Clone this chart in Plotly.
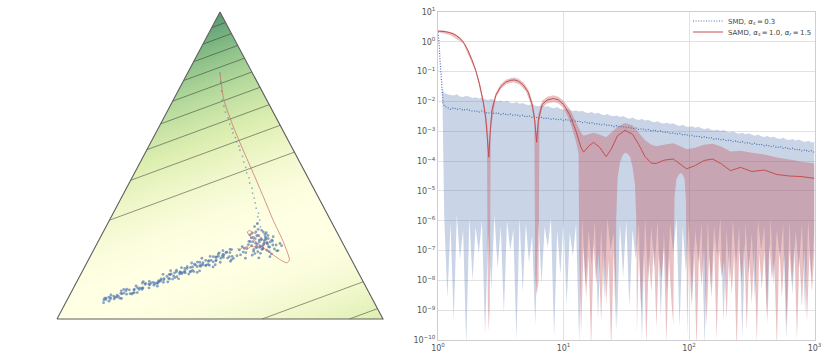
import numpy as np
import plotly.graph_objects as go

# ================= RIGHT PANEL DATA (log10 values) =================
# SMD: head of the mean curve (log10 x, log10 y)
smd_head_logx = [0.0, 0.008, 0.016, 0.024, 0.032, 0.04]
smd_head_logy = [0.32, 0.0, -0.6, -1.2, -1.7, -2.05]
# SMD on a regular log-x grid: 0.05 .. 3.0, step 0.025 (119 points)
smd_grid_start, smd_grid_step, smd_grid_n = 0.05, 0.025, 119
smd_mean_log = [
    -2.15, -2.22,
    -2.26, -2.21, -2.27, -2.24, -2.30, -2.26, -2.29, -2.33, -2.31, -2.36, -2.32, -2.35,
    -2.40, -2.36, -2.41, -2.38, -2.44, -2.40, -2.46, -2.42, -2.47, -2.44, -2.49, -2.46,
    -2.52, -2.48, -2.53, -2.51, -2.57, -2.53, -2.58, -2.55, -2.60, -2.57, -2.62, -2.59,
    -2.64, -2.60, -2.66, -2.63, -2.68, -2.66, -2.71, -2.68, -2.74, -2.71, -2.76, -2.74,
    -2.79, -2.76, -2.81, -2.79, -2.84, -2.81, -2.86, -2.84, -2.88, -2.86, -2.91, -2.89,
    -2.94, -2.91, -2.96, -2.94, -2.99, -2.96, -3.01, -2.99, -3.04, -3.02, -3.07, -3.05,
    -3.10, -3.07, -3.12, -3.10, -3.16, -3.13, -3.18, -3.16, -3.21, -3.18, -3.23, -3.21,
    -3.27, -3.24, -3.29, -3.27, -3.32, -3.29, -3.35, -3.32, -3.38, -3.35, -3.40, -3.38,
    -3.44, -3.40, -3.46, -3.43, -3.49, -3.46, -3.52, -3.49, -3.55, -3.51, -3.57, -3.54,
    -3.60, -3.57, -3.63, -3.60, -3.66, -3.62, -3.68, -3.65, -3.71]
smd_upper_log = [
    -1.72, -1.76,
    -1.78, -1.80, -1.76, -1.83, -1.85, -1.81, -1.84, -1.88, -1.86, -1.90, -1.87, -1.93,
    -1.95, -1.91, -1.96, -1.99, -1.97, -2.02, -1.98, -2.04, -2.06, -2.02, -2.08, -2.05,
    -2.10, -2.13, -2.08, -2.14, -2.16, -2.12, -2.18, -2.15, -2.20, -2.23, -2.19, -2.25,
    -2.27, -2.24, -2.29, -2.32, -2.30, -2.34, -2.31, -2.37, -2.39, -2.35, -2.41, -2.38,
    -2.43, -2.46, -2.42, -2.48, -2.50, -2.47, -2.52, -2.49, -2.55, -2.58, -2.54, -2.60,
    -2.62, -2.59, -2.64, -2.61, -2.67, -2.70, -2.66, -2.72, -2.74, -2.71, -2.76, -2.73,
    -2.79, -2.82, -2.78, -2.84, -2.86, -2.83, -2.88, -2.85, -2.90, -2.93, -2.89, -2.95,
    -2.97, -2.94, -2.99, -2.96, -3.01, -3.04, -3.00, -3.06, -3.08, -3.05, -3.10, -3.07,
    -3.12, -3.15, -3.11, -3.17, -3.19, -3.16, -3.21, -3.18, -3.23, -3.26, -3.22, -3.28,
    -3.29, -3.26, -3.31, -3.28, -3.33, -3.36, -3.32, -3.38, -3.35]
smd_lower_log = [
    -5.9, -8.6,
    -6.1, -9.4, -5.8, -7.3, -6.3, -10.2, -5.9, -8.0, -6.2, -7.1, -6.0, -9.8,
    -6.4, -8.3, -5.8, -7.6, -6.2, -9.1, -6.0, -7.0, -6.3, -10.0, -5.9, -8.4,
    -6.1, -7.4, -6.5, -9.5, -6.0, -8.1, -6.2, -6.9, -5.9, -9.9, -6.3, -7.8,
    -6.0, -8.8, -6.4, -7.2, -6.1, -10.1, -5.9, -8.2, -6.3, -7.5, -6.0, -9.3,
    -6.2, -8.6, -5.9, -7.0, -6.4, -9.7, -6.1, -7.9, -6.0, -8.9, -6.3, -7.3,
    -6.1, -10.0, -5.9, -8.0, -6.2, -7.6, -6.0, -9.2, -6.4, -8.4, -6.1, -7.1,
    -5.9, -9.6, -6.2, -7.7, -6.0, -8.7, -6.3, -7.4, -6.1, -10.2, -6.0, -8.3,
    -6.2, -7.2, -5.9, -9.4, -6.3, -8.1, -6.0, -7.5, -6.2, -9.9, -6.1, -7.8,
    -6.4, -8.6, -6.0, -7.0, -6.2, -9.5, -5.9, -8.2, -6.3, -7.3, -6.1, -10.0,
    -6.0, -8.5, -6.3, -7.6, -6.1, -9.1, -6.0, -7.9, -6.2]
smd_band_head = (0.035, -1.55, -1.8)   # (log10 x, upper, lower) where the band begins

# SAMD mean curve and upper edge
samd_logx = [0.0, 0.03, 0.06, 0.09, 0.12, 0.15, 0.18, 0.21, 0.24, 0.27, 0.30, 0.33, 0.36,
             0.38, 0.395, 0.405, 0.415, 0.43,
             0.46, 0.50, 0.54, 0.58, 0.61, 0.64, 0.68, 0.72, 0.75, 0.77,
             0.786, 0.80, 0.83, 0.87, 0.92, 0.96, 1.00,
             1.05, 1.10, 1.14, 1.16, 1.20, 1.24, 1.29, 1.34, 1.38, 1.43,
             1.49, 1.55, 1.60, 1.65, 1.70, 1.74, 1.80, 1.875, 1.93, 1.98,
             2.05, 2.12, 2.19, 2.26, 2.33, 2.41, 2.50, 2.60, 2.70, 2.80, 2.90, 3.00]
samd_mean_log = [0.36, 0.355, 0.34, 0.31, 0.27, 0.20, 0.10, -0.06, -0.30, -0.60, -0.95, -1.40, -2.00,
                 -2.55, -3.2, -3.87, -3.1, -2.3,
                 -1.8, -1.5, -1.35, -1.29, -1.28, -1.32, -1.45, -1.7, -2.1, -2.6,
                 -3.37, -2.6, -2.1, -1.95, -1.9, -1.95, -2.1,
                 -2.45, -3.0, -3.55, -3.70, -3.5, -3.37, -3.55, -3.85, -3.6, -3.15,
                 -2.97, -3.1, -3.45, -3.85, -4.07, -4.08, -3.97, -3.93, -4.1, -4.26,
                 -4.15, -3.98, -3.93, -4.1, -4.32, -4.21, -4.35, -4.3, -4.45, -4.5, -4.52, -4.58]
samd_upper_log = [0.39, 0.385, 0.37, 0.34, 0.30, 0.23, 0.14, -0.02, -0.26, -0.55, -0.90, -1.34, -1.93,
                  -2.35, -2.85, -3.5, -2.8, -2.18,
                  -1.71, -1.42, -1.27, -1.21, -1.20, -1.24, -1.36, -1.6, -1.98, -2.45,
                  -3.1, -2.45, -1.98, -1.84, -1.79, -1.84, -1.98,
                  -2.25, -2.7, -3.05, -3.15, -3.1, -3.05, -3.12, -3.2, -3.05, -2.85,
                  -2.72, -2.8, -3.05, -3.3, -3.45, -3.5, -3.45, -3.4, -3.5, -3.6,
                  -3.55, -3.45, -3.42, -3.52, -3.68, -3.65, -3.72, -3.78, -3.88, -3.95, -4.02, -4.08]
# SAMD lower edge (its own log-x positions)
samd_lower_logx = [0.0, 0.1, 0.2, 0.3, 0.36, 0.39, 0.397, 0.405, 0.413, 0.42,
                   0.46, 0.5, 0.55, 0.6, 0.65, 0.7, 0.75, 0.768, 0.774, 0.786, 0.802, 0.808,
                   0.83, 0.87, 0.92, 0.96, 1.0, 1.05, 1.1, 1.12,
                   1.125, 1.14, 1.16, 1.18, 1.2, 1.22, 1.24, 1.26, 1.28, 1.30, 1.32, 1.34,
                   1.36, 1.38, 1.40, 1.415,
                   1.42, 1.43, 1.45, 1.47, 1.49, 1.51, 1.53, 1.55, 1.57, 1.58, 1.585,
                   1.6, 1.62, 1.64, 1.66, 1.68, 1.70, 1.72, 1.74, 1.76, 1.78, 1.80, 1.82,
                   1.84, 1.86, 1.875,
                   1.88, 1.885, 1.9, 1.92, 1.935, 1.95, 1.965, 1.975, 1.98, 1.985,
                   2.0, 2.02, 2.04, 2.06, 2.08, 2.10, 2.12, 2.14, 2.16, 2.18, 2.20, 2.22,
                   2.24, 2.26, 2.28, 2.30, 2.32, 2.34, 2.36, 2.38, 2.40, 2.42, 2.44, 2.46,
                   2.48, 2.50, 2.52, 2.54, 2.56, 2.58, 2.60, 2.62, 2.64, 2.66, 2.68, 2.70,
                   2.72, 2.74, 2.76, 2.78, 2.80, 2.82, 2.84, 2.86, 2.88, 2.90, 2.92, 2.94,
                   2.96, 2.98, 3.00]
samd_lower_log = [0.33, 0.22, -0.05, -1.0, -2.1, -3.0, -8.8, -9.7, -8.8, -2.95,
                  -1.88, -1.58, -1.41, -1.36, -1.43, -1.66, -2.2, -2.75, -7.8, -8.5, -8.0, -2.65,
                  -2.22, -2.07, -2.02, -2.07, -2.22, -2.65, -3.35, -3.75,
                  -7.0, -9.8, -6.9, -8.6, -7.2, -10.3, -6.8, -8.1, -7.1, -9.4, -6.9, -8.8,
                  -7.3, -10.4, -7.0, -9.5,
                  -6.0, -4.6, -4.05, -3.8, -3.72, -3.75, -3.85, -4.2, -4.8, -6.0, -9.8,
                  -7.0, -9.1, -6.9, -10.2, -7.2, -8.4, -6.8, -9.6, -7.1, -8.0, -6.9, -10.1,
                  -7.2, -8.7, -9.5,
                  -6.8, -5.2, -4.6, -4.45, -4.4, -4.45, -4.6, -5.3, -6.8, -9.9,
                  -7.0, -8.9, -6.8, -10.3, -7.1, -8.2, -6.9, -9.5, -7.2, -8.6, -6.8, -10.0,
                  -7.0, -7.9, -7.3, -9.3, -6.9, -8.5, -7.1, -10.4, -7.0, -8.1, -6.8, -9.7,
                  -7.2, -8.8, -6.9, -10.1, -7.1, -8.3, -7.0, -9.2, -6.8, -8.0, -7.3, -10.3,
                  -6.9, -8.6, -7.1, -9.6, -7.0, -8.2, -6.8, -10.0, -7.2, -8.9, -6.9, -9.4,
                  -7.1, -8.4, -7.0]

y_tick_exponents = list(range(1, -11, -1))
x_tick_exponents = [0, 1, 2, 3]
TS = "\u2009"
legend_smd = f"SMD, <i>α<sub>s</sub></i>{TS}={TS}0.3"
legend_samd = f"SAMD, <i>α<sub>s</sub></i>{TS}={TS}1.0, <i>α<sub>r</sub></i>{TS}={TS}1.5"

# ================= LEFT PANEL DATA (simplex, cartesian u/v in [0,1]) =================
triangle_u = [0.0, 1.0, 0.5, 0.0]
triangle_v = [0.0, 0.0, 1.0, 0.0]
# background quadratic potential: f = ((bg_v*v - bg_u*u + bg_off)/bg_scale)^2
bg_u, bg_v, bg_off, bg_scale = 120.0, 307.0, -1.98, 77.5
bg_levels = list(range(1, 10))

# elongated SMD cloud: position along band (t) and signed relative offset (s)
band_start = (0.137, 0.056)
band_end = (0.540, 0.215)
band_t = [0.02,0.05,0.08,0.11,0.03,0.14,0.17,0.09,0.20,0.23,
          0.12,0.26,0.06,0.29,0.18,0.31,0.34,0.22,0.36,0.27,
          0.39,0.15,0.41,0.32,0.44,0.37,0.46,0.25,0.48,0.42,
          0.50,0.35,0.52,0.45,0.54,0.30,0.56,0.49,0.58,0.40,
          0.60,0.53,0.62,0.47,0.64,0.57,0.66,0.51,0.68,0.61,
          0.70,0.55,0.72,0.65,0.74,0.59,0.76,0.69,0.78,0.63,
          0.80,0.73,0.82,0.67,0.84,0.77,0.86,0.71,0.88,0.81,
          0.90,0.75,0.92,0.85,0.94,0.79,0.96,0.89,0.98,0.83,
          1.00,0.87,0.91,0.95,0.93,0.97,0.99,0.43,0.33,0.21,
          0.38,0.28,0.19,0.13,0.07,0.24,0.16,0.10,0.04,0.01,
          0.455,0.505,0.535,0.565,0.595,0.625,0.655,0.685,0.715,0.745,
          0.775,0.805,0.835,0.865,0.895,0.925,0.955,0.985,0.475,0.525,
          0.545,0.575,0.605,0.635,0.665,0.695,0.725,0.755,0.785,0.815,
          0.845,0.875,0.905,0.935,0.965,0.395,0.365,0.335,0.305,0.275,
          0.245,0.215,0.185,0.155,0.125,0.095,0.065,0.035,0.415,0.435]
band_s = [0.3,-0.5,0.8,-0.2,0.6,-0.9,0.1,-0.4,0.7,-0.6,
          0.2,-0.8,0.5,-0.1,0.9,-0.3,0.4,-0.7,0.0,0.6,
          -0.5,0.3,-0.9,0.7,-0.2,0.5,-0.6,0.1,0.8,-0.4,
          0.2,-0.7,0.4,-0.1,0.9,-0.5,0.3,-0.8,0.6,-0.3,
          0.1,-0.6,0.7,-0.2,0.4,-0.9,0.5,-0.4,0.2,-0.1,
          0.8,-0.5,0.3,-0.7,0.6,-0.2,0.0,-0.6,0.9,-0.3,
          0.4,-0.8,0.2,-0.4,0.7,-0.1,0.5,-0.9,0.3,-0.5,
          0.6,-0.2,0.1,-0.7,0.8,-0.3,0.4,-0.6,0.2,-0.9,
          0.5,-0.1,0.7,-0.4,0.3,-0.8,0.6,-0.2,0.9,-0.5,
          0.1,-0.3,0.4,-0.7,0.2,-0.6,0.8,-0.1,0.5,-0.4,
          0.15,-0.25,0.35,-0.45,0.05,-0.15,0.25,-0.35,0.45,-0.05,
          0.2,-0.3,0.1,-0.2,0.3,-0.1,0.4,-0.4,0.0,0.25,
          -0.15,0.35,-0.25,0.05,-0.45,0.15,-0.05,0.45,-0.35,0.1,
          -0.2,0.3,-0.1,0.2,-0.3,0.05,-0.15,0.25,-0.25,0.15,
          -0.05,0.35,-0.35,0.1,-0.2,0.3,-0.1,0.2,-0.3,0.0]
band_halfwidth = (0.012, 0.012)  # base, growth along band

cloud_u = [0.621,0.634,0.608,0.643,0.652,0.597,0.618,0.629,0.661,0.612,
           0.639,0.624,0.589,0.633,0.648,0.672,0.603,0.617,0.644,0.609,
           0.582,0.627,0.658,0.684,0.571,0.623,0.598,0.653,0.631,0.606,
           0.563,0.641,0.667,0.592,0.619,0.689,0.552,0.611,0.663,0.628,
           0.601,0.646,0.578,0.615,0.654,0.541,0.607,0.636,0.674,0.596,
           0.622,0.642,0.587,0.659,0.613,0.632,0.568,0.651,0.626,0.604,
           0.532,0.645,0.579,0.678,0.614,0.638,0.559,0.662,0.620,0.599,
           0.640,0.593,0.630,0.610,0.649,0.616,0.602,0.635,0.574,0.647]
cloud_v = [0.251,0.243,0.262,0.248,0.234,0.239,0.272,0.226,0.254,0.232,
           0.268,0.214,0.253,0.283,0.262,0.241,0.221,0.292,0.224,0.247,
           0.229,0.258,0.212,0.246,0.218,0.237,0.279,0.203,0.231,0.301,
           0.209,0.263,0.228,0.274,0.199,0.239,0.206,0.236,0.268,0.289,
           0.252,0.244,0.198,0.311,0.251,0.197,0.213,0.255,0.222,0.264,
           0.233,0.281,0.242,0.257,0.271,0.229,0.236,0.219,0.261,0.227,
           0.188,0.249,0.216,0.223,0.243,0.276,0.225,0.241,0.257,0.208,
           0.259,0.252,0.238,0.284,0.236,0.219,0.266,0.247,0.231,0.272]
trail_u = [0.500,0.502,0.505,0.506,0.512,0.517,0.525,0.530,0.537,0.540,0.547,0.551,0.558,0.561,
           0.569,0.573,0.579,0.582,0.589,0.591,0.598,0.600,0.605,0.608,0.611,0.618,0.616,0.622,
           0.614,0.624]
trail_v = [0.801,0.772,0.742,0.713,0.693,0.674,0.655,0.635,0.620,0.606,0.591,0.577,0.563,0.550,
           0.530,0.511,0.494,0.476,0.460,0.443,0.426,0.410,0.394,0.378,0.361,0.345,0.333,0.322,
           0.310,0.300]
samd_path_u = [0.500,0.512,0.541,0.571,0.602,0.633,0.663,0.692,0.706,0.713,0.705,0.689,0.659,
               0.628,0.602,0.587,0.584,0.590,0.607,0.628,0.638,0.633,0.613,0.594,0.587,0.582,
               0.575,0.568,0.561,0.553]
samd_path_v = [0.800,0.713,0.626,0.550,0.475,0.398,0.322,0.257,0.219,0.192,0.183,0.190,0.212,
               0.236,0.260,0.276,0.284,0.288,0.279,0.263,0.249,0.238,0.234,0.236,0.230,0.238,
               0.227,0.233,0.225,0.230]

# ================= STYLE =================
BLUE = "#4C72B0"
RED = "#C44E52"
FONT = "DejaVu Sans"
W, H = 831, 361

fig = go.Figure()

# ---------- left panel: background potential ----------
gu = np.linspace(0, 1, 241)
gv = np.linspace(0, 1, 241)
UU, VV = np.meshgrid(gu, gv)
Z = ((bg_v * VV - bg_u * UU + bg_off) / bg_scale) ** 2
bg_colorscale = [[0.0, "rgb(255,255,228)"], [0.1, "rgb(242,248,205)"], [0.25, "rgb(220,238,176)"],
                 [0.5, "rgb(176,215,154)"], [0.75, "rgb(130,186,132)"], [1.0, "rgb(88,152,112)"]]
fig.add_trace(go.Heatmap(x=gu, y=gv, z=Z, zmin=0, zmax=10, colorscale=bg_colorscale,
                         zsmooth="best", showscale=False, hoverinfo="skip",
                         xaxis="x", yaxis="y"))
# white masks outside the simplex
pad = 0.1
for mu, mv in [([-pad, 0, 0.5, 0.5, -pad], [-pad, 0, 1, 1 + pad, 1 + pad]),
               ([1 + pad, 1, 0.5, 0.5, 1 + pad], [-pad, 0, 1, 1 + pad, 1 + pad]),
               ([-pad, 1 + pad, 1 + pad, -pad], [-pad, -pad, 0, 0])]:
    fig.add_trace(go.Scatter(x=mu, y=mv, fill="toself", fillcolor="white", mode="none",
                             showlegend=False, hoverinfo="skip", xaxis="x", yaxis="y"))


def level_segment(hval):
    a = (hval - bg_off) / bg_v
    b = bg_u / bg_v
    pts = []
    u = -a / b
    if 0 <= u <= 1:
        pts.append((u, 0.0))
    u = a / (2 - b)
    if 0 <= u <= 0.5:
        pts.append((u, 2 * u))
    u = (2 - a) / (2 + b)
    if 0.5 <= u <= 1:
        pts.append((u, 2 - 2 * u))
    return pts[:2]


cx, cy = [], []
for k in bg_levels:
    for sign in (1, -1):
        seg = level_segment(sign * bg_scale * np.sqrt(k))
        if len(seg) == 2:
            cx += [seg[0][0], seg[1][0], None]
            cy += [seg[0][1], seg[1][1], None]
fig.add_trace(go.Scatter(x=cx, y=cy, mode="lines", line=dict(color="rgba(40,40,40,0.7)", width=0.7),
                         showlegend=False, hoverinfo="skip", xaxis="x", yaxis="y"))

# SMD points
bt = np.array(band_t)
bs = np.array(band_s)
d = np.array(band_end) - np.array(band_start)
perp = np.array([-d[1], d[0]]) / np.hypot(*d)
hw = band_halfwidth[0] + band_halfwidth[1] * bt
band_u = band_start[0] + bt * d[0] + bs * hw * perp[0]
band_v = band_start[1] + bt * d[1] + bs * hw * perp[1]
fig.add_trace(go.Scatter(x=np.concatenate([band_u, cloud_u]), y=np.concatenate([band_v, cloud_v]),
                         mode="markers",
                         marker=dict(color=BLUE, size=2.8, opacity=0.65, line=dict(width=0)),
                         showlegend=False, hoverinfo="skip", xaxis="x", yaxis="y"))
fig.add_trace(go.Scatter(x=trail_u, y=trail_v, mode="markers",
                         marker=dict(color=BLUE, size=1.8, opacity=0.55, line=dict(width=0)),
                         showlegend=False, hoverinfo="skip", xaxis="x", yaxis="y"))
# SAMD path
fig.add_trace(go.Scatter(x=samd_path_u, y=samd_path_v, mode="lines",
                         line=dict(color="rgba(205,105,105,0.8)", width=0.9, shape="spline", smoothing=0.6),
                         showlegend=False, hoverinfo="skip", xaxis="x", yaxis="y"))
# simplex outline
fig.add_trace(go.Scatter(x=triangle_u, y=triangle_v, mode="lines",
                         line=dict(color="rgb(95,95,95)", width=1.1),
                         showlegend=False, hoverinfo="skip", xaxis="x", yaxis="y"))

# ---------- right panel ----------
smd_logx = list(np.round(smd_grid_start + smd_grid_step * np.arange(smd_grid_n), 4))
band_x = [smd_band_head[0]] + smd_logx
band_up = [smd_band_head[1]] + smd_upper_log
band_lo = [smd_band_head[2]] + smd_lower_log
poly_x = 10 ** np.array(band_x + band_x[::-1])
poly_y = 10 ** np.array(band_up + band_lo[::-1])
fig.add_trace(go.Scatter(x=poly_x, y=poly_y, fill="toself", fillcolor="rgba(76,114,176,0.30)",
                         mode="none", showlegend=False, hoverinfo="skip", xaxis="x2", yaxis="y2"))

rpoly_x = 10 ** np.array(samd_logx + samd_lower_logx[::-1])
rpoly_y = 10 ** np.array(samd_upper_log + samd_lower_log[::-1])
fig.add_trace(go.Scatter(x=rpoly_x, y=rpoly_y, fill="toself", fillcolor="rgba(196,78,82,0.35)",
                         mode="none", showlegend=False, hoverinfo="skip", xaxis="x2", yaxis="y2"))

mean_x = 10 ** np.array(smd_head_logx + smd_logx)
mean_y = 10 ** np.array(smd_head_logy + smd_mean_log)
fig.add_trace(go.Scatter(x=mean_x, y=mean_y, mode="lines", name=legend_smd, legend="legend",
                         line=dict(color=BLUE, width=1.2, dash="1px,1.6px"), xaxis="x2", yaxis="y2"))
fig.add_trace(go.Scatter(x=10 ** np.array(samd_logx), y=10 ** np.array(samd_mean_log), mode="lines",
                         name=legend_samd, legend="legend2",
                         line=dict(color=RED, width=1.0), xaxis="x2", yaxis="y2"))

# ---------- layout ----------
def px_x(p):
    return p / W


def px_y(p):
    return 1 - p / H


tri_pad = 0.02
axis_common = dict(showgrid=True, gridcolor="rgb(226,226,230)", gridwidth=1,
                   showline=True, linecolor="rgb(205,205,210)", linewidth=1, mirror=True,
                   ticks="", tickfont=dict(size=8, color="#555"), zeroline=False, automargin=False)
legend_common = dict(xanchor="left", yanchor="middle", bgcolor="rgba(0,0,0,0)", borderwidth=0,
                     font=dict(family=FONT, size=7, color="#444"), itemwidth=30)
fig.update_layout(
    width=W, height=H, margin=dict(l=0, r=0, t=0, b=0, pad=0, autoexpand=False),
    paper_bgcolor="white", plot_bgcolor="white",
    font=dict(family=FONT, size=8, color="#444"),
    hovermode=False,
    xaxis=dict(domain=[px_x(57 - tri_pad * 326), px_x(383 + tri_pad * 326)],
               range=[-tri_pad, 1 + tri_pad], visible=False, fixedrange=True, automargin=False),
    yaxis=dict(domain=[px_y(319 + tri_pad * 307), px_y(12 - tri_pad * 307)],
               range=[-tri_pad, 1 + tri_pad], visible=False, fixedrange=True, automargin=False),
    xaxis2=dict(domain=[px_x(438), px_x(814.5)], type="log", range=[0, 3], anchor="y2",
                tickvals=[10 ** e for e in x_tick_exponents],
                ticktext=[f"10<sup>{e}</sup>" for e in x_tick_exponents], **axis_common),
    yaxis2=dict(domain=[px_y(340), px_y(12)], type="log", range=[-10, 1], anchor="x2",
                tickvals=[10.0 ** e for e in y_tick_exponents],
                ticktext=[f"10<sup>{str(e).replace('-', '−')}</sup>" for e in y_tick_exponents],
                **axis_common),
    legend=dict(x=px_x(688), y=px_y(21), **legend_common),
    legend2=dict(x=px_x(688), y=px_y(32), **legend_common),
)

fig.write_html("out.html", config={"displayModeBar": False},
               post_script="document.body.style.margin='0';")
